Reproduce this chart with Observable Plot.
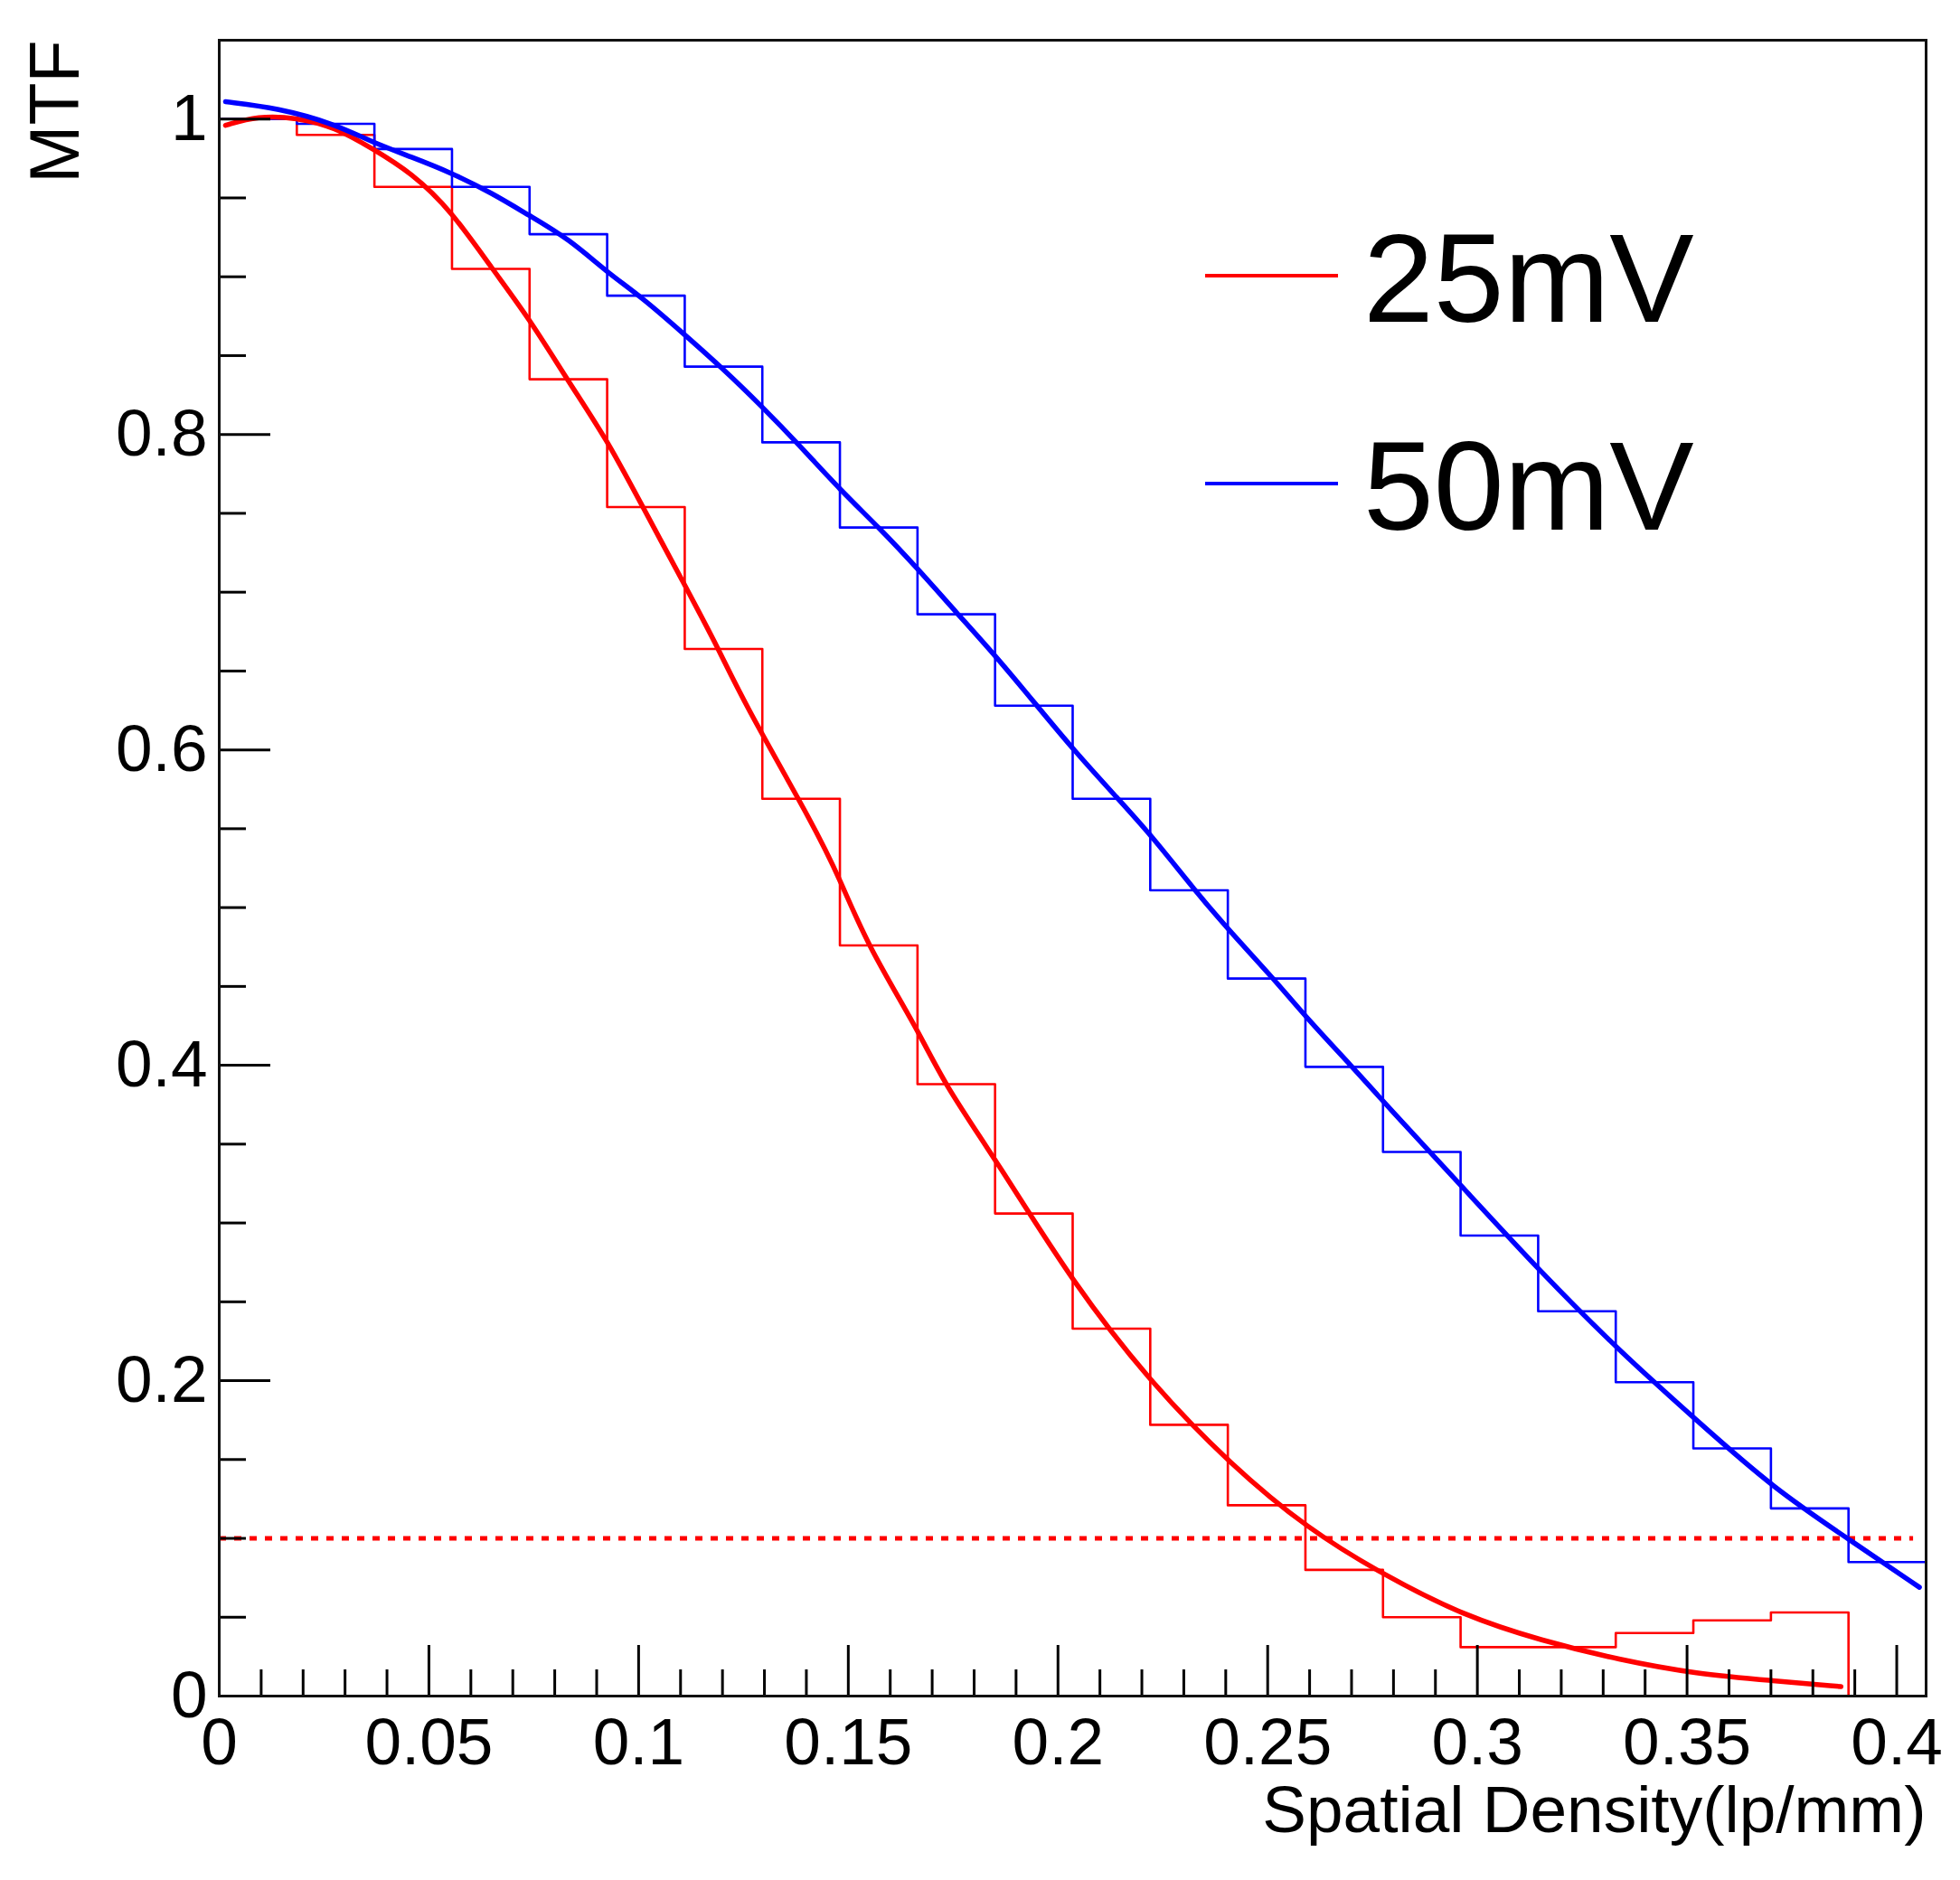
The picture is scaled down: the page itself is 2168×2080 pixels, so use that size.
<!DOCTYPE html>
<html>
<head>
<meta charset="utf-8">
<script src="https://cdn.jsdelivr.net/npm/d3@7"></script>
<script src="https://cdn.jsdelivr.net/npm/@observablehq/plot@0.6"></script>
<style>
  body { margin: 0; background: #fff; }
  #chart svg { display: block; }
</style>
</head>
<body>
<div id="chart"></div>
<script>
// bin edges of the two MTF histograms (lp/mm)
const binEdges = [0, 0.0185, 0.037, 0.0555, 0.074, 0.0925, 0.111, 0.1295, 0.148, 0.1665, 0.185,
  0.2035, 0.222, 0.2405, 0.259, 0.2775, 0.296, 0.3145, 0.333, 0.3515, 0.37, 0.3885, 0.407, 0.4255];

// histogram contents
const hist25 = [1.0, 0.990, 0.957, 0.905, 0.835, 0.754, 0.664, 0.569, 0.476, 0.388, 0.306,
  0.233, 0.172, 0.121, 0.080, 0.050, 0.031, 0.031, 0.040, 0.048, 0.053, 0];
const hist50 = [1.0, 0.997, 0.981, 0.957, 0.927, 0.888, 0.843, 0.795, 0.741, 0.686, 0.628,
  0.569, 0.511, 0.455, 0.399, 0.345, 0.292, 0.244, 0.199, 0.157, 0.119, 0.085, 0.056];

// fitted curves
const fitX25 = [0.0015, 0.0092, 0.0184, 0.0275, 0.0367, 0.0458, 0.0553, 0.0651, 0.0738, 0.0834, 0.0924,
  0.1008, 0.1109, 0.1191, 0.1249, 0.142, 0.148, 0.1546, 0.1665, 0.1729, 0.1852, 0.204, 0.2227,
  0.2411, 0.2595, 0.2782, 0.2967, 0.3154, 0.3338, 0.3522, 0.3709, 0.3867];
const fitY25 = [0.996, 1.002, 1.001, 0.995, 0.981, 0.966, 0.942, 0.905, 0.874, 0.833, 0.797,
  0.755, 0.705, 0.664, 0.631, 0.551, 0.518, 0.476, 0.423, 0.388, 0.340, 0.260, 0.197,
  0.147, 0.106, 0.076, 0.051, 0.035, 0.023, 0.014, 0.0097, 0.006];

const fitX50 = [0.0015, 0.014, 0.0275, 0.0367, 0.0458, 0.0553, 0.0651, 0.0738, 0.0834, 0.0924, 0.1008,
  0.1109, 0.12, 0.1295, 0.1384, 0.148, 0.1575, 0.1665, 0.1758, 0.185, 0.195, 0.2037, 0.2143,
  0.2225, 0.2326, 0.2413, 0.2514, 0.2596, 0.2702, 0.2782, 0.2967, 0.3154, 0.3338, 0.3522,
  0.3709, 0.3894, 0.4054];
const fitY50 = [1.011, 1.007, 0.997, 0.985, 0.976, 0.966, 0.953, 0.939, 0.924, 0.903, 0.887,
  0.8635, 0.842, 0.8175, 0.793, 0.765, 0.7405, 0.715, 0.687, 0.660, 0.628, 0.600, 0.569,
  0.545, 0.511, 0.484, 0.455, 0.429, 0.399, 0.375, 0.322, 0.268, 0.219, 0.175,
  0.131, 0.098, 0.069];

// 10% threshold line
const threshold = 0.1;
const thresholdFrom = 0;
const thresholdTo = 0.404;

const xMajor = [0, 0.05, 0.1, 0.15, 0.2, 0.25, 0.3, 0.35, 0.4];
const xMinor = [0.01, 0.02, 0.03, 0.04, 0.06, 0.07, 0.08, 0.09, 0.11, 0.12, 0.13, 0.14,
  0.16, 0.17, 0.18, 0.19, 0.21, 0.22, 0.23, 0.24, 0.26, 0.27, 0.28, 0.29,
  0.31, 0.32, 0.33, 0.34, 0.36, 0.37, 0.38, 0.39];
const yMajor = [0, 0.2, 0.4, 0.6, 0.8, 1];
const yMinor = [0.05, 0.1, 0.15, 0.25, 0.3, 0.35, 0.45, 0.5, 0.55, 0.65, 0.7, 0.75, 0.85, 0.9, 0.95];

const series = ["25mV", "50mV"];
const colors = ["#ff0000", "#0000ff"];

// histogram as step outline
function steps(values) {
  const pts = values.map((v, i) => ({x: binEdges[i], y: v}));
  pts.push({x: binEdges[values.length], y: values[values.length - 1]});
  return pts;
}
const fit25 = fitX25.map((x, i) => ({x, y: fitY25[i]}));
const fit50 = fitX50.map((x, i) => ({x, y: fitY50[i]}));

const W = 2168, H = 2080;
const mL = 242, mR = 38, mT = 44, mB = 204;
const innerW = W - mL - mR, innerH = H - mT - mB;

const chart = Plot.plot({
  width: W,
  height: H,
  marginLeft: mL,
  marginRight: mR,
  marginTop: mT,
  marginBottom: mB,
  x: {domain: [0, 0.407]},
  y: {domain: [0, 1.05]},
  style: {
    fontFamily: "'Liberation Sans', Arial, sans-serif",
    background: "white",
    color: "black"
  },
  marks: [
    Plot.line(steps(hist25), {x: "x", y: "y", curve: "step-after", stroke: colors[0], strokeWidth: 2.6, clip: true}),
    Plot.line(steps(hist50), {x: "x", y: "y", curve: "step-after", stroke: colors[1], strokeWidth: 2.6, clip: true}),
    Plot.ruleY([threshold], {x1: thresholdFrom, x2: thresholdTo, stroke: colors[0], strokeWidth: 5, strokeDasharray: "8,9"}),
    Plot.line(fit25, {x: "x", y: "y", curve: "basis", stroke: colors[0], strokeWidth: 5.5}),
    Plot.line(fit50, {x: "x", y: "y", curve: "basis", stroke: colors[1], strokeWidth: 5.5}),
    Plot.tickX(xMajor, {x: d => d, insetTop: innerH - 56, strokeWidth: 3}),
    Plot.tickX(xMinor, {x: d => d, insetTop: innerH - 29, strokeWidth: 3}),
    Plot.tickY(yMajor, {y: d => d, insetRight: innerW - 57, strokeWidth: 3}),
    Plot.tickY(yMinor, {y: d => d, insetRight: innerW - 30, strokeWidth: 3}),
    Plot.axisX(xMajor, {tickSize: 0, tickPadding: 24, fontSize: 73, tickFormat: d => String(d), label: null}),
    Plot.axisY(yMajor, {tickSize: 0, tickPadding: 13, fontSize: 73, tickFormat: d => String(d), label: null}),
    Plot.frame({stroke: "#111", strokeWidth: 3}),
    Plot.text(["MTF"], {frameAnchor: "top-left", rotate: -90, textAnchor: "end", lineAnchor: "bottom", dx: -156, fontSize: 77}),
    Plot.text(["Spatial Density(lp/mm)"], {frameAnchor: "bottom-right", textAnchor: "end", lineAnchor: "bottom", dy: 150, fontSize: 73})
  ]
});

// legend
const svg = d3.select(chart);
const legend = svg.append("g")
  .attr("font-family", "'Liberation Sans', Arial, sans-serif")
  .attr("text-anchor", "start");
const rowY = [305, 535];
series.forEach((name, i) => {
  legend.append("line")
    .attr("x1", 1333).attr("x2", 1480)
    .attr("y1", rowY[i]).attr("y2", rowY[i])
    .attr("stroke", colors[i]).attr("stroke-width", 4);
  legend.append("text")
    .attr("x", 1508).attr("y", rowY[i] + 51)
    .attr("font-size", 140)
    .attr("fill", "black")
    .text(name);
});

d3.select("#chart").append(() => chart);
</script>
</body>
</html>
